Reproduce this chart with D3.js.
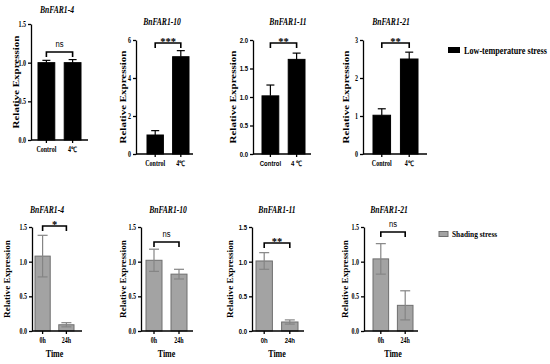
<!DOCTYPE html>
<html>
<head>
<meta charset="utf-8">
<script src="https://cdn.jsdelivr.net/npm/d3@7"></script>
<style>
  body { margin: 0; background: #fff; }
</style>
</head>
<body>
<svg id="chart" width="550" height="364"></svg>
<script>
// ---- data ----
const genes = ["BnFAR1-4", "BnFAR1-10", "BnFAR1-11", "BnFAR1-21"];

// low-temperature stress (top row)
const coldGroups = [["Control", "4℃"], ["Control", "4℃"], ["Control", "4 ℃"], ["Control", "4℃"]];
const coldMeans = [[1.0, 1.0], [1.0, 5.12], [1.02, 1.66], [1.02, 2.5]];
const coldErrors = [[0.03, 0.04], [0.23, 0.32], [0.19, 0.11], [0.17, 0.18]];
const coldSig = ["ns", "***", "**", "**"];
const coldTicks = [[0, 0.5, 1.0, 1.5], [0, 2, 4, 6], [0, 0.5, 1.0, 1.5, 2.0], [0, 1, 2, 3]];

// shading stress (bottom row)
const shadeGroups = ["0h", "24h"];
const shadeMeans = [[1.08, 0.09], [1.02, 0.82], [1.01, 0.13], [1.04, 0.37]];
const shadeErrors = [[0.3, 0.03], [0.16, 0.07], [0.12, 0.03], [0.22, 0.21]];
const shadeSig = ["*", "ns", "**", "ns"];
const shadeTicks = [0, 0.5, 1.0, 1.5];

const legendLabels = ["Low-temperature stress", "Shading stress"];
const yTitle = "Relative Expression";
const xTitle = "Time";

// ---- layout ----
const SERIF = "'Liberation Serif','Times New Roman',serif";
const SANS = "'Liberation Sans',Arial,sans-serif";
const SX = 0.8; // the figure is squeezed horizontally

const topLayout = [
  { ax: 31, end: 88, band: [38, 81], y0: 140, y1: 24, tx: 57, ty: 13, ytx: 16, br: 52 },
  { ax: 136, end: 193, band: [147, 189], y0: 154, y1: 40, tx: 162, ty: 25, ytx: 123, br: 43 },
  { ax: 253, end: 311, band: [262, 305], y0: 154, y1: 40, tx: 288, ty: 25, ytx: 233, br: 43, sans: true },
  { ax: 363, end: 427, band: [373, 418], y0: 154, y1: 40, tx: 391, ty: 25, ytx: 346, br: 43 }
];
const bottomLayout = [
  { ax: 32, end: 82, band: [35, 74], y0: 331, y1: 227, tx: 47, ty: 213, ytx: 7, br: 226 },
  { ax: 141, end: 193, band: [146, 187], y0: 331, y1: 227, tx: 168, ty: 213, ytx: 123, br: 242 },
  { ax: 252, end: 304, band: [256, 298], y0: 331, y1: 227, tx: 277, ty: 213, ytx: 230, br: 243, sans: true },
  { ax: 364, end: 418, band: [373, 413], y0: 331, y1: 227, tx: 389, ty: 213, ytx: 345, br: 232 }
];

const svg = d3.select("#chart");

function label(g, x, y, s, font, size, weight, style, sx) {
  return g.append("text")
    .attr("transform", `translate(${x},${y}) scale(${sx || SX},1)`)
    .attr("text-anchor", "middle")
    .style("font-family", font)
    .style("font-size", size + "px")
    .style("font-weight", weight || "bold")
    .style("font-style", style || "normal")
    .text(s);
}

function drawPanel(p, o, look) {
  const g = svg.append("g");
  const x = d3.scaleBand().domain(p.groups).range(o.band).paddingInner(0.36);
  const y = d3.scaleLinear().domain([0, d3.max(p.ticks)]).range([o.y0, o.y1]);
  const isInt = p.ticks.every(Number.isInteger);
  const tickFont = o.sans ? SANS : SERIF;
  const cx = d => x(d) + x.bandwidth() / 2;

  // bars
  g.selectAll("rect.bar").data(p.groups).join("rect")
    .attr("class", "bar")
    .attr("x", d => x(d))
    .attr("width", x.bandwidth())
    .attr("y", (d, i) => y(p.means[i]))
    .attr("height", (d, i) => o.y0 - y(p.means[i]))
    .attr("fill", look.fill)
    .attr("stroke", look.stroke)
    .attr("stroke-width", 1);

  // error bars
  const eb = g.selectAll("g.err").data(p.groups).join("g")
    .attr("class", "err")
    .attr("stroke", look.err)
    .attr("stroke-width", 1.2);
  eb.append("line")
    .attr("x1", cx).attr("x2", cx)
    .attr("y1", (d, i) => y(p.means[i] - (look.both ? p.errors[i] : 0)))
    .attr("y2", (d, i) => y(p.means[i] + p.errors[i]));
  eb.append("line")
    .attr("x1", d => cx(d) - look.cap / 2).attr("x2", d => cx(d) + look.cap / 2)
    .attr("y1", (d, i) => y(p.means[i] + p.errors[i]))
    .attr("y2", (d, i) => y(p.means[i] + p.errors[i]));
  if (look.both) {
    eb.append("line")
      .attr("x1", d => cx(d) - look.cap / 2).attr("x2", d => cx(d) + look.cap / 2)
      .attr("y1", (d, i) => y(p.means[i] - p.errors[i]))
      .attr("y2", (d, i) => y(p.means[i] - p.errors[i]));
  }

  // y axis
  g.append("g")
    .attr("transform", `translate(${o.ax},0)`)
    .call(d3.axisLeft(y).tickValues(p.ticks)
      .tickFormat(isInt ? d3.format("d") : d3.format(".1f"))
      .tickSize(3).tickSizeOuter(0).tickPadding(2))
    .call(a => a.selectAll("path,line").attr("stroke", "#000").attr("stroke-width", 1.3))
    .call(a => a.selectAll("text")
      .attr("x", -5 / SX)
      .attr("transform", `scale(${SX},1)`)
      .style("font-family", tickFont)
      .style("font-size", "7.5px")
      .style("font-weight", "bold")
      .attr("fill", "#000"));

  // x axis
  g.append("g")
    .attr("transform", `translate(0,${o.y0})`)
    .call(d3.axisBottom(x).tickSize(3).tickSizeOuter(0).tickPadding(4)
      .tickFormat((d, i) => p.labels ? p.labels[i] : d))
    .call(a => a.select(".domain").attr("d", `M${o.ax},0H${o.end}`))
    .call(a => a.selectAll("path,line").attr("stroke", "#000").attr("stroke-width", 1.3))
    .call(a => a.selectAll("text")
      .attr("transform", `scale(${SX},1)`)
      .style("font-family", tickFont)
      .style("font-size", "7.5px")
      .style("font-weight", "bold")
      .attr("fill", "#000"));

  // significance bracket
  const b1 = cx(p.groups[0]), b2 = cx(p.groups[1]);
  g.append("path")
    .attr("d", `M${b1},${o.br + 5}V${o.br}H${b2}V${o.br + 5}`)
    .attr("fill", "none").attr("stroke", "#000").attr("stroke-width", 1.6);
  if (p.sig === "ns") {
    label(g, (b1 + b2) / 2, o.br - 5, p.sig, SANS, 9, "normal", "normal", 0.85);
  } else {
    label(g, (b1 + b2) / 2, o.br + 1.5, p.sig, SERIF, 10.5, "bold", "normal", 1);
  }

  // gene title
  label(g, o.tx, o.ty, p.gene, SERIF, 9.5, "bold", "italic");

  // y title
  const ym = (o.y0 + o.y1) / 2;
  g.append("text")
    .attr("transform", `translate(${o.ytx},${ym}) rotate(-90) scale(1,${SX})`)
    .attr("text-anchor", "middle")
    .attr("dy", "0.35em")
    .style("font-family", SERIF)
    .style("font-size", look.ytSize + "px")
    .style("font-weight", "bold")
    .text(yTitle);

  if (look.time) {
    label(g, (b1 + b2) / 2, 357, xTitle, SERIF, 10, "bold");
  }
}

const coldLook = { fill: "#000", stroke: "#000", err: "#000", cap: 8, both: false, ytSize: 11 };
const shadeLook = { fill: "#a3a3a3", stroke: "#6f6f6f", err: "#858585", cap: 10, both: true, ytSize: 9.2, time: true };

genes.forEach((gene, i) => {
  drawPanel({
    gene, groups: ["Control", "4℃"], labels: coldGroups[i],
    means: coldMeans[i], errors: coldErrors[i], sig: coldSig[i], ticks: coldTicks[i]
  }, topLayout[i], coldLook);
  drawPanel({
    gene, groups: shadeGroups,
    means: shadeMeans[i], errors: shadeErrors[i], sig: shadeSig[i], ticks: shadeTicks
  }, bottomLayout[i], shadeLook);
});

// legends
const lg = svg.append("g");
lg.append("rect").attr("x", 448).attr("y", 47).attr("width", 12).attr("height", 6).attr("fill", "#000");
lg.append("text")
  .attr("transform", `translate(464,53.5) scale(0.86,1)`)
  .style("font-family", SERIF).style("font-size", "9.5px").style("font-weight", "bold")
  .text(legendLabels[0]);
lg.append("rect").attr("x", 439).attr("y", 231.5).attr("width", 9).attr("height", 5)
  .attr("fill", "#a3a3a3").attr("stroke", "#6f6f6f").attr("stroke-width", 1);
lg.append("text")
  .attr("transform", `translate(452,237) scale(0.82,1)`)
  .style("font-family", SERIF).style("font-size", "9px").style("font-weight", "bold")
  .text(legendLabels[1]);
</script>
</body>
</html>
